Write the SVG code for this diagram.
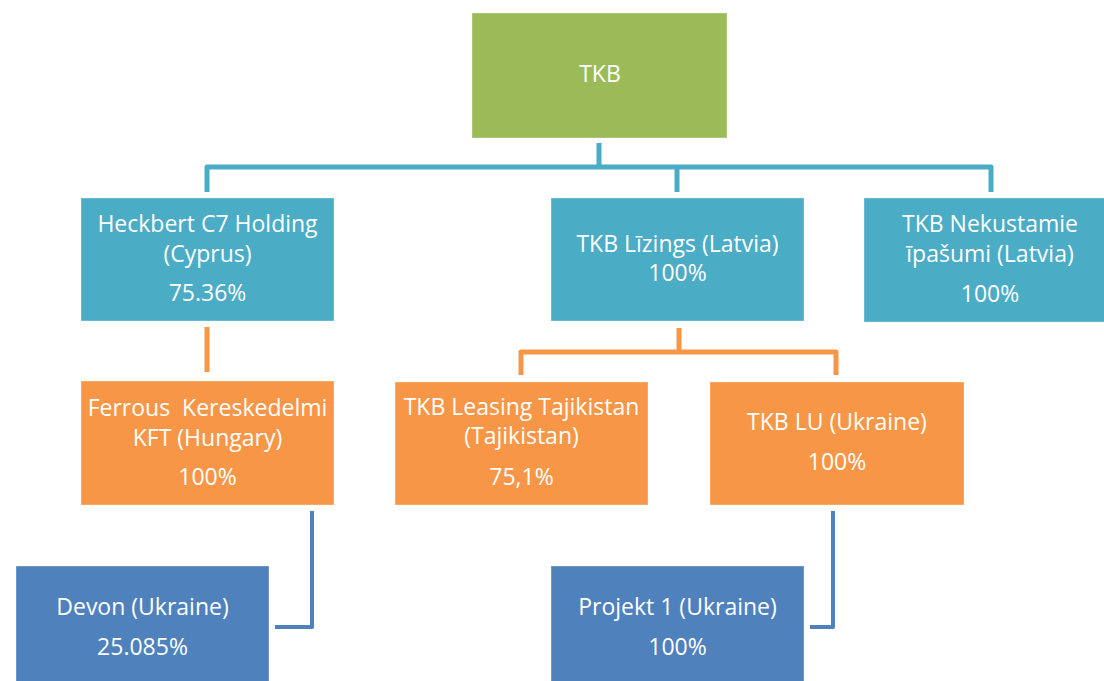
<svg xmlns="http://www.w3.org/2000/svg" width="1104" height="681" viewBox="0 0 1104 681">
<style>
.t{font-family:"Open Sans","Liberation Sans",sans-serif;font-size:23px;fill:#fff;text-anchor:middle;white-space:pre}
.box{stroke:#fff;stroke-opacity:0.35;stroke-width:1}
.green{fill:#9BBB59}.teal{fill:#4BACC6}.orange{fill:#F79646}.blue{fill:#4F81BD}
.c{fill:none;stroke-linejoin:round;stroke-linecap:butt}
</style>
<rect width="1104" height="681" fill="#fff"/>
<g id="connectors">
<path class="c" stroke="#4BACC6" stroke-width="5" d="M599,143 V167 M207,192 V167 H991 V192 M677,167 V192"/>
<path class="c" stroke="#F79646" stroke-width="5" d="M207,327 V372 M679,328 V352 M521,375 V352 H836 V375"/>
<path class="c" stroke="#4F81BD" stroke-width="4" d="M312,511 V627 H275 M833,511 V627 H810"/>
</g>
<g id="tkb"><rect class="box green" x="472" y="13" width="255" height="125"/><text class="t" x="600" y="82">TKB</text></g>
<g id="heckbert"><rect class="box teal" x="81" y="198" width="253" height="123"/>
<text class="t" x="207.5" y="232">Heckbert C7 Holding</text><text class="t" x="207.5" y="262">(Cyprus)</text><text class="t" x="207.5" y="301">75.36%</text></g>
<g id="lizings"><rect class="box teal" x="551" y="198" width="253" height="123"/>
<text class="t" x="677.5" y="252">TKB Līzings (Latvia)</text><text class="t" x="677.5" y="281">100%</text></g>
<g id="nekustamie"><rect class="box teal" x="864" y="198" width="253" height="124"/>
<text class="t" x="990" y="232">TKB Nekustamie</text><text class="t" x="990" y="262">īpašumi (Latvia)</text><text class="t" x="990" y="302">100%</text></g>
<g id="ferrous"><rect class="box orange" x="81" y="381" width="253" height="124"/>
<text class="t" x="207.5" y="416">Ferrous  Kereskedelmi</text><text class="t" x="207.5" y="446">KFT (Hungary)</text><text class="t" x="207.5" y="485">100%</text></g>
<g id="leasing-tajikistan"><rect class="box orange" x="395" y="382" width="253" height="123"/>
<text class="t" x="521.5" y="415">TKB Leasing Tajikistan</text><text class="t" x="521.5" y="444">(Tajikistan)</text><text class="t" x="521.5" y="485">75,1%</text></g>
<g id="tkb-lu"><rect class="box orange" x="710" y="382" width="254" height="123"/>
<text class="t" x="837" y="430">TKB LU (Ukraine)</text><text class="t" x="837" y="470">100%</text></g>
<g id="devon"><rect class="box blue" x="16" y="566" width="253" height="120"/>
<text class="t" x="142.5" y="615">Devon (Ukraine)</text><text class="t" x="142.5" y="655">25.085%</text></g>
<g id="projekt1"><rect class="box blue" x="551" y="566" width="253" height="120"/>
<text class="t" x="677.5" y="615">Projekt 1 (Ukraine)</text><text class="t" x="677.5" y="655">100%</text></g>
</svg>
